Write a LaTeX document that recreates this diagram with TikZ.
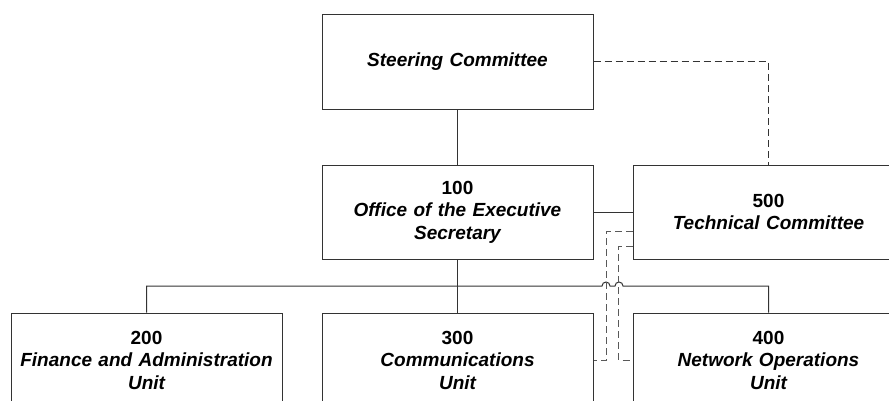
\documentclass[tikz,border=0pt]{standalone}
\usepackage{fontspec}
\setmainfont{Liberation Sans}
\begin{document}
\begin{tikzpicture}[x=1pt,y=1pt,
  unit/.style={draw=black!80,line width=1pt,fill=white,minimum width=271pt,minimum height=94pt,
    text width=255pt,align=center,inner sep=0pt,font=\fontsize{19}{22.5}\selectfont\bfseries},
  link/.style={draw=black!80,line width=1pt},
  dotlink/.style={draw=black!65,line width=1pt,dash pattern=on 7pt off 4pt}]

\useasboundingbox (0,0) rectangle (889,400);
\clip (0,0) rectangle (889,400);

% units
\node[unit] (steer) at (457.5,338) {\itshape Steering Committee};
\node[unit] (office) at (457.5,188) {100\\\itshape Office of the Executive\\Secretary};
\node[unit] (tech) at (768.5,188) {500\\\itshape Technical Committee};
\node[unit] (finance) at (146.5,40) {200\\\itshape Finance and Administration\\Unit};
\node[unit] (comms) at (457.5,40) {300\\\itshape Communications\\Unit};
\node[unit] (netops) at (768.5,40) {400\\\itshape Network Operations\\Unit};

\coordinate (hopa) at (606,114);
\coordinate (hopb) at (619,114);

% reporting lines
\draw[link] (steer.south) -- (office.north);
\draw[link] (office.east) -- (tech.west);
\draw[link] (office.south) -- (comms.north);
\draw[link] (finance.north) |- ([xshift=-4pt]hopa) arc (180:0:4)
  -- ([xshift=-4pt]hopb) arc (180:0:4) -| (netops.north);

% advisory lines
\draw[link,dash pattern=on 7pt off 4pt] (steer.east) -| (tech.north);
\draw[dotlink] ([yshift=-19pt]tech.west) -| ([xshift=13pt]comms.east) -- (comms.east);
\draw[dotlink] ([yshift=-34pt]tech.west) -| ([xshift=-14pt]netops.west) -- (netops.west);

\end{tikzpicture}
\end{document}
